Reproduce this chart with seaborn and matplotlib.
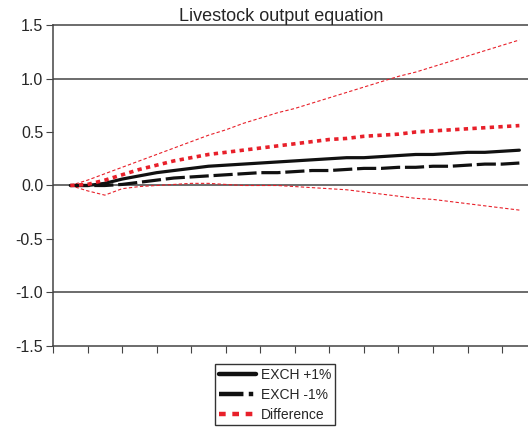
import numpy as np
import pandas as pd
import seaborn as sns
import matplotlib.pyplot as plt
from matplotlib.lines import Line2D

periods = list(range(1, 28))
exch_up = [0.00, 0.00, 0.02, 0.06, 0.09, 0.12, 0.14, 0.16, 0.18, 0.19, 0.20, 0.21, 0.22, 0.23,
           0.24, 0.25, 0.26, 0.26, 0.27, 0.28, 0.29, 0.29, 0.30, 0.31, 0.31, 0.32, 0.33]
exch_down = [0.00, 0.00, 0.00, 0.01, 0.03, 0.05, 0.07, 0.08, 0.09, 0.10, 0.11, 0.12, 0.12, 0.13,
             0.14, 0.14, 0.15, 0.16, 0.16, 0.17, 0.17, 0.18, 0.18, 0.19, 0.20, 0.20, 0.21]
difference = [0.00, 0.01, 0.05, 0.10, 0.15, 0.19, 0.23, 0.26, 0.29, 0.31, 0.33, 0.35, 0.37, 0.39,
              0.41, 0.43, 0.44, 0.46, 0.47, 0.48, 0.50, 0.51, 0.52, 0.53, 0.54, 0.55, 0.56]
upper_band = [0.00, 0.05, 0.11, 0.17, 0.23, 0.29, 0.35, 0.41, 0.47, 0.52, 0.58, 0.63, 0.68, 0.72,
              0.77, 0.82, 0.87, 0.92, 0.97, 1.02, 1.06, 1.11, 1.16, 1.21, 1.26, 1.31, 1.36]
lower_band = [0.00, -0.05, -0.09, -0.03, -0.01, 0.00, 0.01, 0.02, 0.02, 0.01, 0.00, 0.00, 0.00, -0.01,
              -0.02, -0.03, -0.04, -0.06, -0.08, -0.10, -0.12, -0.13, -0.15, -0.17, -0.19, -0.21, -0.23]

sns.set_style("white")
plt.rcParams['font.family'] = ['Liberation Sans', 'DejaVu Sans']

red = '#e8202a'
fig = plt.figure(figsize=(5.28, 4.29), dpi=100)
ax = fig.add_axes([0.1004, 0.1935, 0.8996, 0.7482])

for yy in [1.0, 0.0, -1.0]:
    ax.axhline(yy, color='#444444', lw=1.1, zorder=1)

l_up = sns.lineplot(x=periods, y=upper_band, color=red, lw=0.8, ax=ax).lines[-1]
l_up.set_dashes((3, 2))
l_lo = sns.lineplot(x=periods, y=lower_band, color=red, lw=0.8, ax=ax).lines[-1]
l_lo.set_dashes((3, 2))
l_s = sns.lineplot(x=periods, y=exch_up, color='#111111', lw=2.3, ax=ax).lines[-1]
l_d = sns.lineplot(x=periods, y=exch_down, color='#111111', lw=2.3, ax=ax).lines[-1]
l_d.set_dashes((6, 1.5))
l_f = sns.lineplot(x=periods, y=difference, color=red, lw=2.6, ax=ax).lines[-1]
l_f.set_dashes((1.2, 1.2))

ax.set_xlim(0, 27.5)
ax.set_ylim(-1.5, 1.5)
ax.set_yticks([1.5, 1.0, 0.5, 0.0, -0.5, -1.0, -1.5])
ax.set_yticklabels(['1.5', '1.0', '0.5', '0.0', '-0.5', '-1.0', '-1.5'])
ax.set_xticks(range(0, 28, 2))
ax.set_xticklabels([])
ax.tick_params(axis='both', direction='out', length=5, width=0.8, color='#444444',
               labelsize=11.5, pad=2, left=True, bottom=True)
for side in ['left', 'bottom', 'top']:
    ax.spines[side].set_color('#444444')
    ax.spines[side].set_linewidth(1.1)
ax.spines['right'].set_visible(False)
ax.set_title('Livestock output equation', fontsize=13, pad=2, x=0.48)

handles = [
    Line2D([], [], color='#111111', lw=3.2),
    Line2D([], [], color='#111111', lw=3.2, dashes=(5.5, 1.2, 1.0, 1.2)),
    Line2D([], [], color=red, lw=3.2, dashes=(1.5, 1.5)),
]
leg = fig.legend(handles, ['EXCH +1%', 'EXCH -1%', 'Difference'],
                 loc='center', bbox_to_anchor=(0.521, 0.080), fontsize=10,
                 frameon=True, fancybox=False, edgecolor='black', handlelength=2.7,
                 handletextpad=0.35, borderpad=0.25, labelspacing=0.42, borderaxespad=0)
leg.get_frame().set_linewidth(1.0)

fig.savefig('out.png', dpi=100)
